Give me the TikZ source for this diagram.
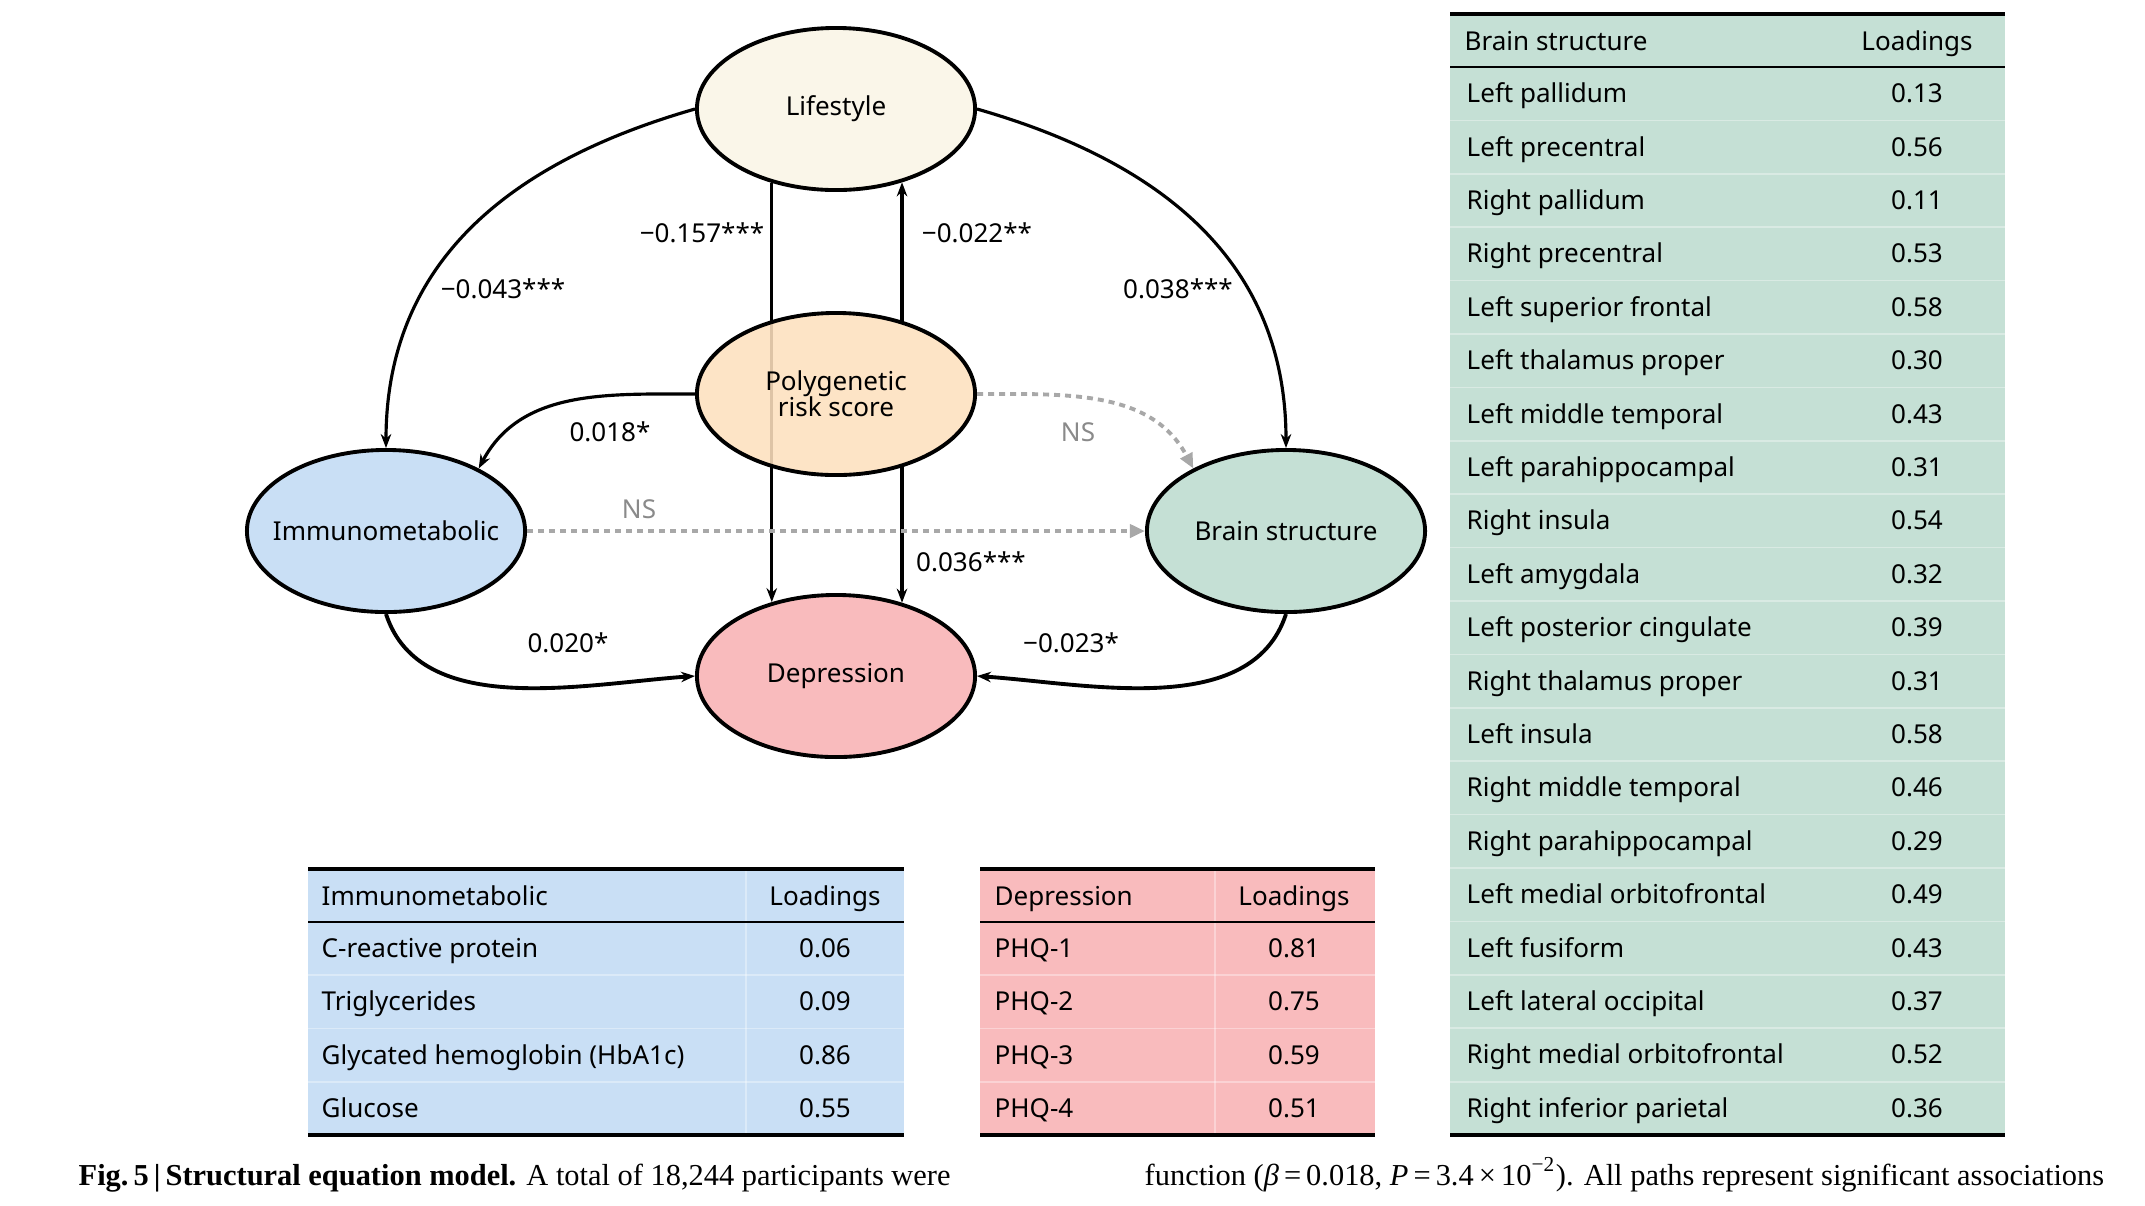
\documentclass[tikz,border=0pt]{standalone}
\usepackage{fontspec}
\setmainfont{Noto Sans}
\newfontfamily\capfont{Liberation Serif}
\usepackage{tikz}
\usetikzlibrary{positioning,arrows.meta,shapes.geometric}
\usepackage{xcolor}

\definecolor{lstfill}{HTML}{FAF6E9}
\definecolor{prsfill}{HTML}{FDE0BE}
\definecolor{immfill}{HTML}{C9DFF5}
\definecolor{brnfill}{HTML}{C5E0D5}
\definecolor{depfill}{HTML}{F9BBBD}
\definecolor{nsgray}{HTML}{A8A8A8}
\definecolor{nstext}{HTML}{8A8A8A}

\newcommand{\sz}{\fontsize{7.4}{8.6}\selectfont}

\tikzset{
  latent/.style={ellipse,draw=black,line width=1.1pt,minimum width=2.78cm,
    minimum height=1.62cm,inner ysep=0pt,inner xsep=-0.4cm,align=center,font=\sz},
  effect/.style={-{Stealth[length=1.4mm,width=1.05mm]},line width=0.9pt},
  nseffect/.style={-{Triangle[length=1.5mm,width=1.3mm]},nsgray,line width=1.1pt,
    dash pattern=on 0.06cm off 0.05cm},
  coef/.style={font=\sz,inner sep=1pt},
  cell/.style={font=\sz,inner sep=0pt,anchor=base west},
  load/.style={font=\sz,inner sep=0pt,anchor=base},
  thickrule/.style={line width=1.2pt},
  headrule/.style={line width=0.8pt},
  sep/.style={white,line width=0.5pt,opacity=0.35},
}

\begin{document}
\begin{tikzpicture}[x=0.01cm,y=-0.01cm]
\useasboundingbox (0,0) rectangle (2145,1205);

% latent variables
\node[latent,fill=lstfill] (lst) at (836,109) {Lifestyle};
\node[latent,fill=immfill] (imm) at (386,531) {Immunometabolic};
\node[latent,fill=brnfill] (brn) at (1286,531) {Brain structure};
\node[latent,fill=depfill] (dep) at (836,676) {Depression};

% lifestyle -> depression runs behind the PRS
\draw[effect] (lst.229) -- (dep.131);
\node[latent,fill=prsfill,fill opacity=0.88,text opacity=1] (prs) at (836,394) {Polygenetic\\[-1.2pt]risk score};

% paths
\draw[effect] (lst.west) to[out=196,in=90,looseness=1.05] (imm.north);
\draw[effect] (lst.east) to[out=-16,in=90,looseness=1.05] (brn.north);
\draw[effect] (prs.48) -- (lst.312);
\draw[effect] (prs.312) -- (dep.48);
\draw[effect] (prs.west) to[out=180,in=62] (imm.34);
\draw[nseffect] (prs.east) to[out=0,in=118] (brn.146);
\draw[nseffect] (imm.east) -- (brn.west);
\draw[effect,line width=1.1pt] (imm.south) to[out=-72,in=184,looseness=0.9] (dep.west);
\draw[effect,line width=1.1pt] (brn.south) to[out=-108,in=-4,looseness=0.9] (dep.east);

% coefficients
\node[coef] (c1) at (503,289) {−0.043***};
\node[coef] (c2) at (702,233) {−0.157***};
\node[coef] (c3) at (977,233) {−0.022**};
\node[coef] (c4) at (1178,289) {0.038***};
\node[coef] (c5) at (610,432) {0.018*};
\node[coef,text=nstext] (c6) at (1078,432) {NS};
\node[coef,text=nstext] (c7) at (639,509) {NS};
\node[coef] (c8) at (971,562) {0.036***};
\node[coef] (c9) at (568,643) {0.020*};
\node[coef] (c10) at (1071,643) {−0.023*};

% table: immunometabolic
\fill[immfill] (308,869) rectangle (904,1135);
\draw[sep] (746,869) -- (746,1135);
\foreach \k in {1,2,3} \draw[sep] (308,{922+53.25*\k}) -- (904,{922+53.25*\k});
\node[cell] (ih) at (321,905) {Immunometabolic};
\node[load] (il) at (825,905) {Loadings};
\foreach \name/\val [count=\i] in {C-reactive protein/0.06,Triglycerides/0.09,
  Glycated hemoglobin (HbA1c)/0.86,Glucose/0.55}{
  \node[cell] (ir\i) at (321,{931+53.25*(\i-0.5)}) {\name};
  \node[load] (iv\i) at (825,{931+53.25*(\i-0.5)}) {\val};
}
\draw[thickrule] (308,869) -- (904,869);
\draw[headrule] (308,922) -- (904,922);
\draw[thickrule] (308,1135) -- (904,1135);

% table: depression
\fill[depfill] (980,869) rectangle (1375,1135);
\draw[sep] (1215,869) -- (1215,1135);
\foreach \k in {1,2,3} \draw[sep] (980,{922+53.25*\k}) -- (1375,{922+53.25*\k});
\node[cell] (dh) at (994,905) {Depression};
\node[load] (dl) at (1294,905) {Loadings};
\foreach \name/\val [count=\i] in {PHQ-1/0.81,PHQ-2/0.75,PHQ-3/0.59,PHQ-4/0.51}{
  \node[cell] (dr\i) at (994,{931+53.25*(\i-0.5)}) {\name};
  \node[load] (dv\i) at (1294,{931+53.25*(\i-0.5)}) {\val};
}
\draw[thickrule] (980,869) -- (1375,869);
\draw[headrule] (980,922) -- (1375,922);
\draw[thickrule] (980,1135) -- (1375,1135);

% table: brain structure
\fill[brnfill] (1450,14) rectangle (2005,1135);
\foreach \k in {1,...,19} \draw[sep] (1450,{67+53.4*\k}) -- (2005,{67+53.4*\k});
\node[cell] (bh) at (1464,50) {Brain structure};
\node[load] (bl) at (1917,50) {Loadings};
\foreach \name/\val [count=\i] in {Left pallidum/0.13,Left precentral/0.56,
  Right pallidum/0.11,Right precentral/0.53,Left superior frontal/0.58,
  Left thalamus proper/0.30,Left middle temporal/0.43,Left parahippocampal/0.31,
  Right insula/0.54,Left amygdala/0.32,Left posterior cingulate/0.39,
  Right thalamus proper/0.31,Left insula/0.58,Right middle temporal/0.46,
  Right parahippocampal/0.29,Left medial orbitofrontal/0.49,Left fusiform/0.43,
  Left lateral occipital/0.37,Right medial orbitofrontal/0.52,
  Right inferior parietal/0.36}{
  \node[cell] (br\i) at (1466,{76+53.4*(\i-0.5)}) {\name};
  \node[load] (bv\i) at (1917,{76+53.4*(\i-0.5)}) {\val};
}
\draw[thickrule] (1450,14) -- (2005,14);
\draw[headrule] (1450,67) -- (2005,67);
\draw[thickrule] (1450,1135) -- (2005,1135);

% caption
\node[anchor=base west,inner sep=0pt,font=\capfont\fontsize{8.65}{10}\selectfont] (cap1) at (78,1185)
  {\textbf{Fig.\,5\,|\,Structural equation model.} A total of 18,244 participants were};
\node[anchor=base west,inner sep=0pt,font=\capfont\fontsize{8.65}{10}\selectfont] (cap2) at (1144,1185)
  {function (\textit{β}\,=\,0.018, \textit{P}\,=\,3.4\,×\,10\textsuperscript{−2}). All paths represent significant associations};
\end{tikzpicture}
\end{document}
